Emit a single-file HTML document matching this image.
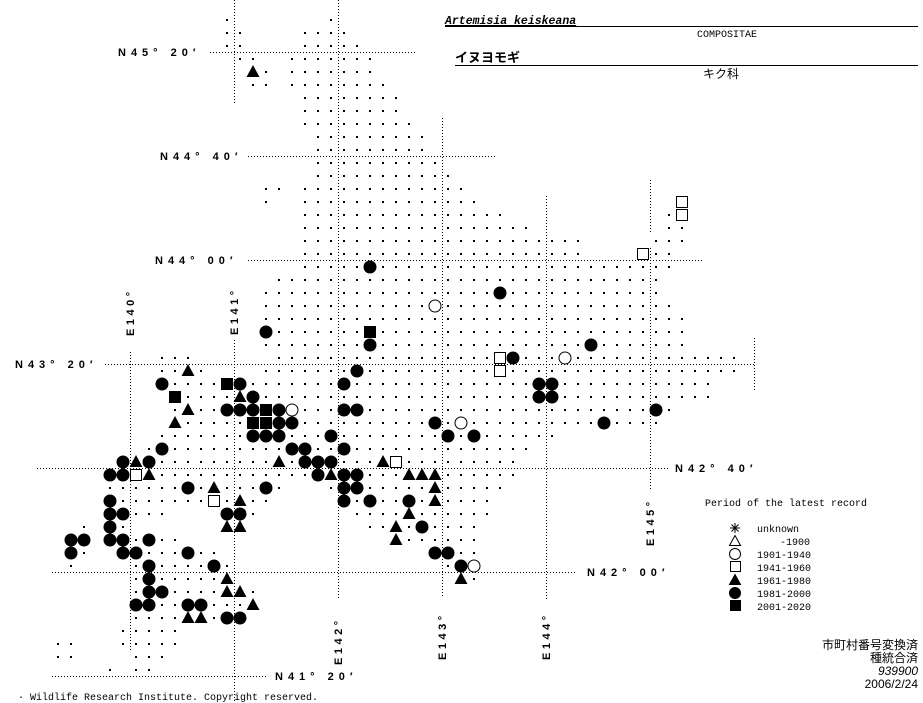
<!DOCTYPE html>
<html><head><meta charset="utf-8"><style>
html,body{margin:0;padding:0;background:#fff;}
svg{display:block;}
.lat{font-family:"Liberation Sans",sans-serif;font-weight:bold;font-size:11px;letter-spacing:5px;fill:#000;}
.mono{font-family:"Liberation Mono","Noto Sans CJK JP",monospace;font-size:10px;fill:#000;}
.jp{font-family:"Liberation Sans","Noto Sans CJK JP",sans-serif;fill:#000;}
</style></head><body>
<svg id="s" width="923" height="703" xmlns="http://www.w3.org/2000/svg">
<g stroke="#000" stroke-width="1" stroke-dasharray="1,2" fill="none">
<line x1="210" y1="52.5" x2="417" y2="52.5"/>
<line x1="248" y1="156.5" x2="495" y2="156.5"/>
<line x1="248" y1="260.5" x2="703" y2="260.5"/>
<line x1="105" y1="364.5" x2="755" y2="364.5"/>
<line x1="37" y1="468.5" x2="668" y2="468.5"/>
<line x1="52" y1="572.5" x2="577" y2="572.5"/>
<line x1="52" y1="676.5" x2="267" y2="676.5"/>
<line x1="130.5" y1="352" x2="130.5" y2="650"/>
<line x1="234.5" y1="0" x2="234.5" y2="105"/>
<line x1="234.5" y1="340" x2="234.5" y2="703"/>
<line x1="338.5" y1="0" x2="338.5" y2="598"/>
<line x1="442.5" y1="118" x2="442.5" y2="598"/>
<line x1="546.5" y1="196" x2="546.5" y2="600"/>
<line x1="650.5" y1="180" x2="650.5" y2="234"/>
<line x1="650.5" y1="248" x2="650.5" y2="490"/>
<line x1="754.5" y1="338" x2="754.5" y2="390"/>
</g>
<g id="dots" fill="#000"></g>
<g id="marks"></g>
<text class="lat" x="118" y="56">N45° 20′</text>
<text class="lat" x="160" y="160">N44° 40′</text>
<text class="lat" x="155" y="264">N44° 00′</text>
<text class="lat" x="15" y="368">N43° 20′</text>
<text class="lat" x="675" y="472">N42° 40′</text>
<text class="lat" x="587" y="576">N42° 00′</text>
<text class="lat" x="275" y="680">N41° 20′</text>
<g class="lat" style="letter-spacing:3.5px">
<text transform="translate(134,336) rotate(-90)">E140°</text>
<text transform="translate(238,335) rotate(-90)">E141°</text>
<text transform="translate(342,665) rotate(-90)">E142°</text>
<text transform="translate(446,660) rotate(-90)">E143°</text>
<text transform="translate(550,660) rotate(-90)">E144°</text>
<text transform="translate(654,546) rotate(-90)">E145°</text>
</g>
<text x="445" y="24" style="font-family:'Liberation Mono',monospace;font-weight:bold;font-style:italic;font-size:11.5px;text-decoration:underline">Artemisia keiskeana</text>
<line x1="445" y1="26.5" x2="918" y2="26.5" stroke="#000"/>
<text class="mono" x="697" y="37">COMPOSITAE</text>
<text class="jp" x="455" y="62" style="font-size:13px;font-weight:bold">イヌヨモギ</text>
<line x1="455" y1="65.5" x2="918" y2="65.5" stroke="#000"/>
<text class="jp" x="703" y="78" style="font-size:12px">キク科</text>
<text class="mono" x="705" y="506">Period of the latest record</text>
<text class="mono" x="757" y="532">unknown</text>
<text class="mono" x="810" y="545" text-anchor="end">-1900</text>
<text class="mono" x="757" y="558">1901-1940</text>
<text class="mono" x="757" y="571">1941-1960</text>
<text class="mono" x="757" y="584">1961-1980</text>
<text class="mono" x="757" y="597">1981-2000</text>
<text class="mono" x="757" y="610">2001-2020</text>
<g stroke="#000" stroke-width="1">
<line x1="730" y1="528" x2="740" y2="528"/><line x1="735" y1="523" x2="735" y2="533"/>
<line x1="731.5" y1="524.5" x2="738.5" y2="531.5"/><line x1="738.5" y1="524.5" x2="731.5" y2="531.5"/>
<polygon points="735,535.5 740.5,545.5 729.5,545.5" fill="#fff"/>
<circle cx="735" cy="554" r="5.5" fill="#fff"/>
<rect x="730.5" y="561.5" width="10" height="10" fill="#fff"/>
<polygon points="735,574.5 740.5,584.5 729.5,584.5" fill="#000"/>
<circle cx="735" cy="593" r="6" fill="#000" stroke="none"/>
<rect x="730" y="600" width="11" height="11" fill="#000" stroke="none"/>
</g>
<g class="jp" style="font-size:12px" text-anchor="end">
<text x="918" y="649">市町村番号変換済</text>
<text x="918" y="662">種統合済</text>
<text x="918" y="675" style="font-style:italic">939900</text>
<text x="918" y="688">2006/2/24</text>
</g>
<text class="mono" x="18" y="700">· Wildlife Research Institute. Copyright reserved.</text>
</svg>
<script>
var R={1:[[17],[25]],2:[[17,18],[23,26]],3:[[17,18],[23,27]],4:[[18,19],[22,28]],5:[[19,20],[22,28]],6:[[19,20],[22,29]],
7:[[23,30]],8:[[23,30]],9:[[23,31]],10:[[24,32]],11:[[24,32]],12:[[24,33]],13:[[24,34]],14:[[20,21],[23,35]],15:[[20],[23,36],[52]],
16:[[23,38],[51,52]],17:[[23,40],[51,52]],18:[[23,44],[50,52]],19:[[23,44],[49,51]],20:[[23,51]],21:[[21,50]],22:[[20,50]],23:[[20,51]],
24:[[20,52]],25:[[20,52]],26:[[20,52]],27:[[12,14],[21,56]],28:[[12,15],[20,56]],29:[[12,54]],30:[[13,54]],31:[[13,51]],32:[[13,50]],
33:[[12,42]],34:[[11,40]],35:[[9,39]],36:[[8,39]],37:[[8,21],[25,38]],38:[[8,20],[26,37]],39:[[8,12],[17,19],[27,37]],
40:[[6],[8,9],[17,18],[28,36]],41:[[5,6],[8,13],[30,36]],42:[[5,6],[9,16],[33,36]],43:[[5],[10,17],[34,36]],44:[[10,17],[35,36]],
45:[[10,19]],46:[[10,19]],47:[[10,18]],48:[[9,13]],49:[[4,5],[9,13]],50:[[4,5],[10,12]],51:[[8],[10,11]]};
var ns="http://www.w3.org/2000/svg",d=document.getElementById("dots"),h="";
for(var j in R){R[j].forEach(function(r){var a=r[0],b=r.length>1?r[1]:r[0];for(var i=a;i<=b;i++){h+='<rect x="'+(5+13*i)+'" y="'+(6+13*j)+'" width="2" height="2"/>';}});}
d.innerHTML=h;
// markers: C filled circle, O open circle, S filled square, Q open square, T filled triangle
var M={C:[[370,267],[500,293],[266,332],[370,345],[591,345],[513,358],[357,371],[539,384],[552,384],[539,397],[552,397],[656,410],[604,423],
[162,384],[240,384],[344,384],[253,397],[227,410],[240,410],[253,410],[279,410],[344,410],[357,410],[279,423],[292,423],[435,423],
[253,436],[266,436],[279,436],[331,436],[448,436],[474,436],[162,449],[292,449],[305,449],[344,449],[123,462],[149,462],[305,462],[318,462],[331,462],
[110,475],[123,475],[318,475],[344,475],[357,475],[188,488],[266,488],[344,488],[357,488],[110,501],[344,501],[370,501],[409,501],
[110,514],[123,514],[227,514],[240,514],[110,527],[422,527],[71,540],[84,540],[110,540],[123,540],[149,540],[71,553],[123,553],[136,553],[188,553],[435,553],[448,553],
[149,566],[214,566],[461,566],[149,579],[149,592],[162,592],[136,605],[149,605],[188,605],[201,605],[227,618],[240,618]],
O:[[435,306],[565,358],[292,410],[461,423],[474,566]],
S:[[370,332],[227,384],[175,397],[266,410],[253,423],[266,423]],
Q:[[682,202],[682,215],[643,254],[500,358],[500,371],[396,462],[136,475],[214,501]],
T:[[253,72],[188,371],[240,397],[188,410],[175,423],[136,462],[279,462],[383,462],[149,475],[331,475],[409,475],[422,475],[435,475],[214,488],[435,488],
[240,501],[435,501],[409,514],[227,527],[240,527],[396,527],[396,540],[227,579],[461,579],[227,592],[240,592],[253,605],[188,618],[201,618]]};
var m="";
M.C.forEach(function(p){m+='<circle cx="'+p[0]+'" cy="'+p[1]+'" r="6.5" fill="#000"/>';});
M.O.forEach(function(p){m+='<circle cx="'+p[0]+'" cy="'+p[1]+'" r="6" fill="#fff" stroke="#000" stroke-width="1"/>';});
M.S.forEach(function(p){m+='<rect x="'+(p[0]-6)+'" y="'+(p[1]-6)+'" width="12" height="12" fill="#000"/>';});
M.Q.forEach(function(p){m+='<rect x="'+(p[0]-5.5)+'" y="'+(p[1]-5.5)+'" width="11" height="11" fill="#fff" stroke="#000" stroke-width="1"/>';});
M.T.forEach(function(p){m+='<polygon points="'+p[0]+','+(p[1]-7)+' '+(p[0]+6.5)+','+(p[1]+5)+' '+(p[0]-6.5)+','+(p[1]+5)+'" fill="#000"/>';});
document.getElementById("marks").innerHTML=m;
</script>
</body></html>
